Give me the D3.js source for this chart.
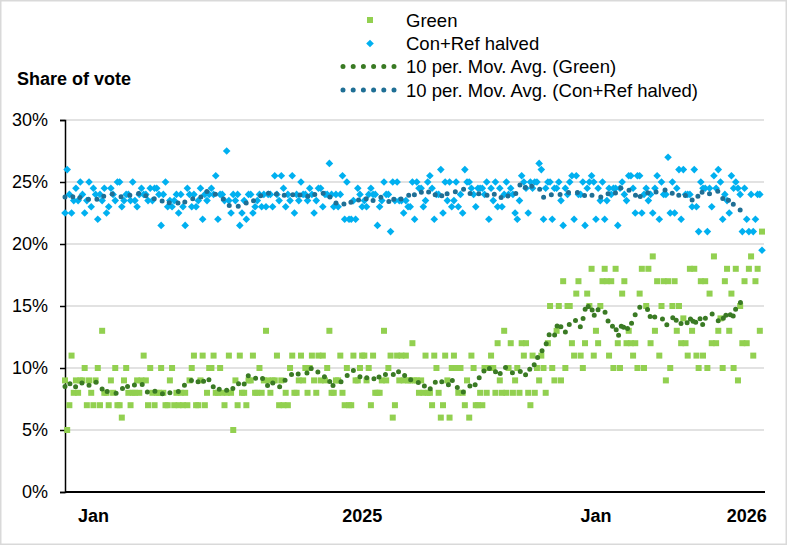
<!DOCTYPE html>
<html><head><meta charset="utf-8">
<script src="https://cdn.jsdelivr.net/npm/d3@7"></script>
<style>body{margin:0;background:#fff}svg{display:block}text{font-family:"Liberation Sans",Arial,sans-serif}</style>
</head><body>
<svg id="c" width="787" height="545"></svg>
<script>
// Green share (%) per poll, oldest to newest
const green = [
9,5,7,11,8,9,8,9,9,10,7,
9,8,7,9,10,7,13,8,8,7,9,
8,10,7,7,6,9,10,8,7,8,
8,9,8,9,11,9,7,10,8,7,8,
8,10,8,7,7,9,10,7,8,7,
8,7,8,7,9,10,11,7,7,9,11,
7,8,10,10,11,8,8,10,8,7,
8,11,8,5,9,7,11,8,8,7,9,
9,11,8,8,10,8,9,13,9,8,9,
9,11,7,9,7,8,7,10,11,8,
8,9,11,9,10,8,10,11,9,8,
11,9,11,9,10,13,8,8,9,9,
11,8,7,10,7,7,11,9,9,10,
11,11,9,10,7,11,8,8,8,9,
13,9,10,11,6,7,11,9,11,9,
11,9,9,12,9,9,8,9,8,11,8,
8,7,11,10,8,6,7,11,9,6,
10,11,10,8,10,8,7,9,6,11,
10,7,7,8,7,10,8,10,11,10,
8,12,9,8,13,8,10,12,8,9,
10,8,12,11,12,8,7,11,8,10,
9,11,10,8,12,15,10,9,13,15,
9,17,10,15,15,12,11,16,17,11,
10,12,16,15,18,11,13,12,15,17,
18,17,11,17,10,18,12,10,16,17,12,
13,12,11,12,10,16,18,10,15,18,
12,19,13,17,11,15,17,9,17,10,
15,17,13,15,12,14,12,11,18,13,
18,11,10,17,11,17,10,16,12,19,
12,13,14,10,17,18,13,16,10,18,9,
15,12,17,12,18,19,11,17,18,13,21
];
// (Con + Ref) / 2 share (%) per poll
const conRefHalved = [
22.5,26,24,22.5,23.5,24.5,23.5,25,24,22.5,
23.5,25,23,24.5,24,22,24,23.5,24.5,22.5,
23,24.5,24,23.5,25,25,23,23.5,24,24,
23.5,25,23.5,23,24,24.5,24,24,23.5,24.5,
23.5,24.5,24.5,24,21.5,24,25,23,23.5,23,
23.5,24,22.5,24,23,21.5,24.5,24,23,24,
23,23.5,24.5,22,24,23.5,24,24.5,24,25.5,
22,24,24,23.5,27.5,23.5,22.5,24,23.5,
24,21.5,22.5,23.5,22,24,24,22.5,23,23.5,
24,23,24,23,24,24,23,25.5,24,23.5,
25.5,24.5,23,24,23.5,25.5,22.5,24,23.5,25,
24,24,23.5,24.5,24,22.5,23.5,24.5,24.5,23,
24,24,26.5,24,23,24,23,24,25.5,22,
25,22,22,23.5,22,24.5,24,23,23.5,23,
24,24.5,24,24,21.5,23,23.5,25,24,24,
21,25,23.5,25,23.5,23.5,22.5,
23.5,23,23,25,22,25,24.5,24.5,23,23.5,
25,25.5,24.5,22,24,24,26,22.5,25,23.5,
25,23,23.5,25,23,24,22.5,26,25,25,
24.5,24,23,24.5,24.5,24.5,24,25,22,24.5,
23.5,25,23,24.5,23,24,25,24,24.5,24,
22.5,22,23.5,25.5,25,24.5,22.5,25,24.5,25,
25,26.5,26,22,24.5,25,25,22,24.5,24.5,
25,23.5,21.5,24.5,24,25,25.5,22,
25.5,24,24,25,21.5,24.5,25,25.5,25,22,
24.5,23.5,25,22,23.5,24.5,24,24.5,24.5,21.5,
24.5,25,24,23.5,25.5,25.5,24.5,22.5,25.5,25.5,
22.5,24,24.5,23.5,24,22.5,24.5,25.5,22,25,
24,24,27,22.5,25,22.5,24.5,26,22,26,
24,24,24,23,26,23,21,25,24.5,24.5,
21,24.5,23,25.5,24.5,26,25,22,24,23.5,
22.5,25.5,24.5,25,24.5,24,21,24.5,22,21,
24,21,22,24,24,19.5
];
const xTickLabels = ["Jan","2025","Jan","2026"];
const xTickPoll = [13,136,243,312];
const yTickValues = [0,5,10,15,20,25,30];
const seriesNames = ["Green","Con+Ref halved","10 per. Mov. Avg. (Green)","10 per. Mov. Avg. (Con+Ref halved)"];
const maPeriod = 10;

const FONT = '"Liberation Sans",Arial,sans-serif';
const svg = d3.select("#c");
const n = conRefHalved.length;
const x = d3.scaleLinear().domain([0, n - 1]).range([65, 762]);
const y = d3.scaleLinear().domain([0, 30]).range([492, 120]);

svg.append("rect").attr("x",0.75).attr("y",0.75).attr("width",785.5).attr("height",543.5)
  .attr("fill","#fff").attr("stroke","#d9d9d9").attr("stroke-width",1.5);

// gridlines
svg.append("g").selectAll("line").data(yTickValues.filter(d=>d>0)).join("line")
  .attr("x1",65).attr("x2",764).attr("y1",d=>y(d)).attr("y2",d=>y(d))
  .attr("stroke","#d9d9d9").attr("stroke-width",1.5);

// y axis
const ya = svg.append("g").attr("transform","translate(65,0)")
  .call(d3.axisLeft(y).tickValues(yTickValues).tickSize(5).tickPadding(12).tickFormat(d=>d+"%"));
ya.select(".domain").attr("stroke","#000").attr("stroke-width",1.5);
ya.selectAll(".tick line").attr("stroke","#000").attr("stroke-width",1.5);
ya.selectAll(".tick text").attr("font-size",18).attr("font-family",FONT).attr("fill","#000");

// x axis
svg.append("line").attr("x1",65).attr("x2",765).attr("y1",y(0)).attr("y2",y(0))
  .attr("stroke","#000").attr("stroke-width",2);
svg.append("g").selectAll("text").data(xTickLabels).join("text")
  .attr("x",(d,i)=>x(xTickPoll[i])).attr("y",522).attr("text-anchor","middle")
  .attr("font-size",18).attr("font-weight","bold").attr("font-family",FONT).attr("fill","#000").text(d=>d);

// title
svg.append("text").attr("x",17).attr("y",85).attr("font-size",18).attr("font-weight","bold")
  .attr("font-family",FONT).attr("fill","#000").text("Share of vote");

const diamond = r => `M0,${-r}L${r},0L0,${r}L${-r},0Z`;
const GREEN="#92D050", BLUE="#00B0F0", GREEN_MA="#3A7A24", BLUE_MA="#1F6F95";

// green markers
svg.append("g").selectAll("rect").data(green).join("rect")
  .attr("x",(d,i)=>x(i)-3).attr("y",d=>y(d)-3).attr("width",6).attr("height",6).attr("fill",GREEN);
// blue markers
svg.append("g").selectAll("path").data(conRefHalved).join("path")
  .attr("transform",(d,i)=>`translate(${x(i)},${y(d)})`).attr("d",diamond(3.8)).attr("fill",BLUE);

// moving averages (Excel trendline on reversed sheet order: average of this and next 9 polls)
function movAvg(arr){
  const out=[];
  for(let i=0;i+maPeriod<=arr.length;i++){ out.push([i, d3.mean(arr.slice(i,i+maPeriod))]); }
  return out;
}
const line = d3.line().x(d=>x(d[0])).y(d=>y(d[1]));
[[green,GREEN_MA],[conRefHalved,BLUE_MA]].forEach(([arr,col])=>{
  svg.append("path").attr("d",line(movAvg(arr))).attr("fill","none").attr("stroke",col)
    .attr("stroke-width",5).attr("stroke-linecap","round").attr("stroke-dasharray","0 9.4");
});

// legend
const lg = svg.append("g");
const ly = [20,43.5,66.5,90];
lg.append("rect").attr("x",367).attr("y",ly[0]-3).attr("width",6).attr("height",6).attr("fill",GREEN);
lg.append("path").attr("transform",`translate(370,${ly[1]})`).attr("d",diamond(3.8)).attr("fill",BLUE);
[[ly[2],GREEN_MA],[ly[3],BLUE_MA]].forEach(([yy,col])=>{
  lg.append("line").attr("x1",343).attr("x2",394).attr("y1",yy).attr("y2",yy).attr("stroke",col)
    .attr("stroke-width",5).attr("stroke-linecap","round").attr("stroke-dasharray","0 10.2");
});
lg.selectAll("text").data(seriesNames).join("text").attr("x",406).attr("y",(d,i)=>ly[i]+6.5)
  .attr("font-size",18.5).attr("font-family",FONT).attr("fill","#000").text(d=>d);
</script>
</body></html>
